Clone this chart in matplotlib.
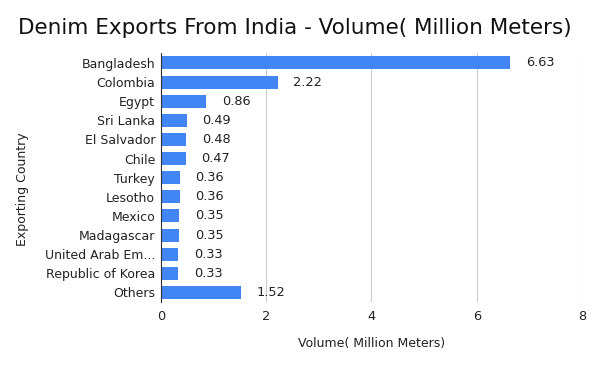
import matplotlib.pyplot as plt

countries = ['Bangladesh', 'Colombia', 'Egypt', 'Sri Lanka', 'El Salvador', 'Chile',
             'Turkey', 'Lesotho', 'Mexico', 'Madagascar', 'United Arab Em...',
             'Republic of Korea', 'Others']
volume = [6.63, 2.22, 0.86, 0.49, 0.48, 0.47, 0.36, 0.36, 0.35, 0.35, 0.33, 0.33, 1.52]
xticks = [0, 2, 4, 6, 8]

fig = plt.figure(figsize=(6, 3.71), dpi=100)
ax = fig.add_axes([0.268, 0.186, 0.702, 0.67])

pos = list(range(len(countries)))
ax.barh(pos, volume, height=0.68, color='#4285F4', zorder=3)
for p, v in zip(pos, volume):
    ax.text(v + 0.3, p, '{:.2f}'.format(v), va='center', ha='left', fontsize=9.3, color='#222222')

ax.set_yticks(pos)
ax.set_yticklabels(countries, fontsize=9, color='#222222')
ax.set_ylim(len(countries) - 0.5, -0.5)
ax.set_xlim(0, 8)
ax.set_xticks(xticks)
ax.set_xticklabels([str(t) for t in xticks], fontsize=9.3, color='#222222')
ax.tick_params(length=0, pad=6)
ax.tick_params(axis='y', pad=4)
ax.grid(axis='x', color='#cccccc', linewidth=0.8, zorder=0)
for s in ['top', 'right', 'bottom']:
    ax.spines[s].set_visible(False)
ax.spines['left'].set_color('#333333')
ax.spines['left'].set_linewidth(0.8)
ax.spines['left'].set_zorder(4)

ax.set_xlabel('Volume( Million Meters)', fontsize=9, color='#222222', labelpad=10)
fig.text(0.037, 0.49, 'Exporting Country', rotation=90, va='center', ha='center',
         fontsize=9, color='#222222')
fig.text(0.03, 0.925, 'Denim Exports From India - Volume( Million Meters)',
         fontsize=15.5, color='#111111', va='center', ha='left')

fig.savefig('out.png', dpi=100)
